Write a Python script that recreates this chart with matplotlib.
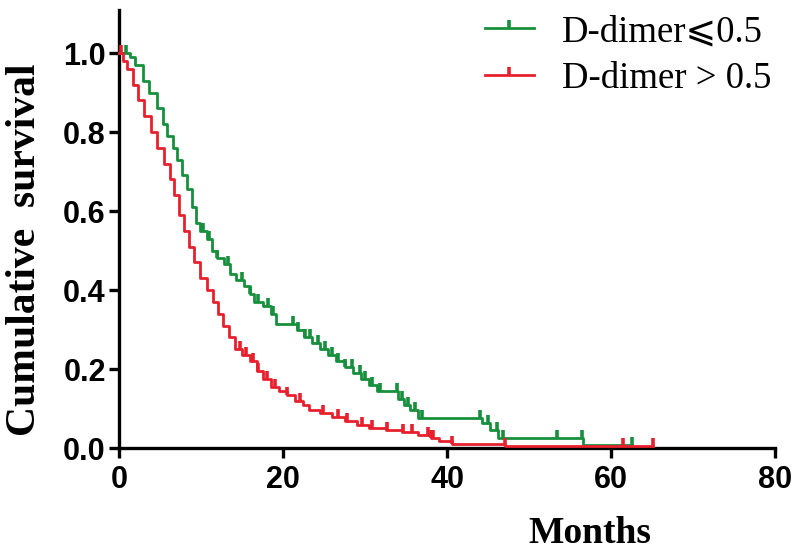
import numpy as np
import matplotlib
matplotlib.use("Agg")
import matplotlib.pyplot as plt
from matplotlib.path import Path
from matplotlib.lines import Line2D

# ---- data ----
green_label = "D-dimer\u2a7d0.5"
red_label = "D-dimer > 0.5"

green_t = [0, 1.3, 2.0, 2.9, 3.7, 4.6, 5.4, 5.9, 6.6, 7.1, 7.7, 8.3, 8.9, 9.4, 9.9,
           10.7, 11.3, 12.0, 12.8, 13.5, 14.3, 15.2, 16.0, 16.5, 17.5, 18.5, 19.2,
           21.7, 22.5, 23.5, 24.5, 25.5, 26.5, 27.5, 28.5, 29.5, 30.5, 31.5,
           34.0, 34.8, 35.5, 36.5, 44.3, 45.2, 46.2, 56.6]
green_s = [1.0, 0.99, 0.97, 0.93, 0.90, 0.86, 0.82, 0.79, 0.76, 0.73, 0.69, 0.655, 0.61, 0.57, 0.55,
           0.53, 0.50, 0.48, 0.465, 0.44, 0.425, 0.41, 0.39, 0.37, 0.36, 0.34, 0.315,
           0.30, 0.28, 0.265, 0.25, 0.235, 0.22, 0.205, 0.19, 0.175, 0.16, 0.145,
           0.125, 0.11, 0.095, 0.076, 0.063, 0.046, 0.025, 0.008]
green_end = 62.5
green_cens = [0.8, 10.2, 11.0, 12.0, 13.3, 15.0, 16.0, 17.0, 18.2, 18.8, 21.2, 21.8, 22.7,
              23.3, 24.3, 25.1, 26.0, 26.7, 27.6, 28.4, 29.4, 30.0, 30.9, 31.8, 33.9,
              34.5, 35.2, 36.1, 37.0, 44.0, 45.0, 46.1, 46.8, 53.4, 56.5, 62.5]

red_t = [0, 0.5, 1.0, 1.7, 2.3, 3.0, 3.9, 4.6, 5.5, 6.2, 6.7, 7.3, 7.9, 8.5, 9.2, 9.9,
         10.7, 11.5, 12.1, 12.7, 13.4, 14.2, 15.0, 16.0, 16.8, 17.6, 18.5, 19.5, 20.5,
         21.5, 22.4, 23.2, 24.5, 26.0, 27.5, 29.0, 30.5, 32.5, 34.5, 36.5, 38.0, 39.0,
         40.6, 47.1]
red_s = [1.0, 0.98, 0.96, 0.92, 0.88, 0.84, 0.80, 0.76, 0.72, 0.68, 0.64, 0.59, 0.55, 0.51, 0.47, 0.43,
         0.40, 0.37, 0.34, 0.31, 0.28, 0.25, 0.235, 0.22, 0.195, 0.175, 0.155, 0.145, 0.135,
         0.12, 0.11, 0.095, 0.088, 0.079, 0.068, 0.058, 0.05, 0.045, 0.04, 0.033, 0.025, 0.018,
         0.01, 0.004]
red_end = 65.1
red_cens = [0.3, 14.8, 15.5, 16.3, 17.0, 18.0, 19.0, 20.5, 22.1, 24.9, 26.7, 27.8, 29.6,
            30.9, 32.7, 34.6, 35.7, 37.7, 38.0, 38.3, 40.6, 47.1, 61.5, 65.1]

x_ticks = [0, 20, 40, 60, 80]
y_ticks = [0.0, 0.2, 0.4, 0.6, 0.8, 1.0]

green_col = "#16903C"
red_col = "#E8202E"

# ---- figure ----
fig = plt.figure(figsize=(8, 5.52), dpi=100)
ax = fig.add_axes([119 / 800, 1 - 448 / 552, 656 / 800, 438 / 552])

tick_marker = Path([(0, 0), (0, 1)], [Path.MOVETO, Path.LINETO])
LW = 2.0
MS = 12
MEW = 2.6


def draw(times, surv, end, cens, col):
    t = np.array(list(times) + [end])
    s = np.array(list(surv) + [surv[-1]])
    ax.step(t, s, where="post", color=col, lw=LW, clip_on=False, zorder=3)
    c = np.array(cens)
    idx = np.searchsorted(np.array(times), c, side="right") - 1
    cs = np.array(surv)[idx]
    ax.plot(c, cs, linestyle="none", marker=tick_marker, ms=MS, mew=MEW,
            color=col, clip_on=False, zorder=3)


draw(green_t, green_s, green_end, green_cens, green_col)
draw(red_t, red_s, red_end, red_cens, red_col)

ax.set_xlim(0, 80)
ax.set_ylim(0, 1.109)
ax.set_xticks(x_ticks)
ax.set_yticks(y_ticks)
ax.set_xticklabels([str(v) for v in x_ticks])
ax.set_yticklabels([f"{v:.1f}" for v in y_ticks])

for sp in ["top", "right"]:
    ax.spines[sp].set_visible(False)
for sp in ["left", "bottom"]:
    ax.spines[sp].set_linewidth(2.4)
    ax.spines[sp].set_color("black")

ax.tick_params(axis="both", direction="out", length=7.5, width=2.4, labelsize=22, pad=2)
for lab in ax.get_xticklabels() + ax.get_yticklabels():
    lab.set_fontfamily("Liberation Sans")
    lab.set_fontweight("bold")
ax.tick_params(axis="x", pad=5)

ax.set_xlabel("Months", fontfamily="Liberation Serif", fontweight="bold", fontsize=27)
ax.xaxis.set_label_coords((590 - 119) / 656, -0.155)
ax.set_ylabel("Cumulative  survival", fontfamily="Liberation Serif", fontweight="bold", fontsize=30)
ax.yaxis.set_label_coords(-0.115, 0.452)

handles = [
    Line2D([], [], color=green_col, lw=LW, marker=tick_marker, ms=MS, mew=MEW),
    Line2D([], [], color=red_col, lw=LW, marker=tick_marker, ms=MS, mew=MEW),
]
leg = ax.legend(handles, [green_label, red_label], loc="upper right",
                bbox_to_anchor=(786 / 800, 552 / 552), bbox_transform=fig.transFigure,
                frameon=False, handlelength=1.35, handletextpad=0.75, labelspacing=0.32,
                borderaxespad=0.0,
                prop={"family": ["Liberation Serif", "DejaVu Serif", "DejaVu Sans"], "size": 26.5})

fig.savefig("out.png", dpi=100)
